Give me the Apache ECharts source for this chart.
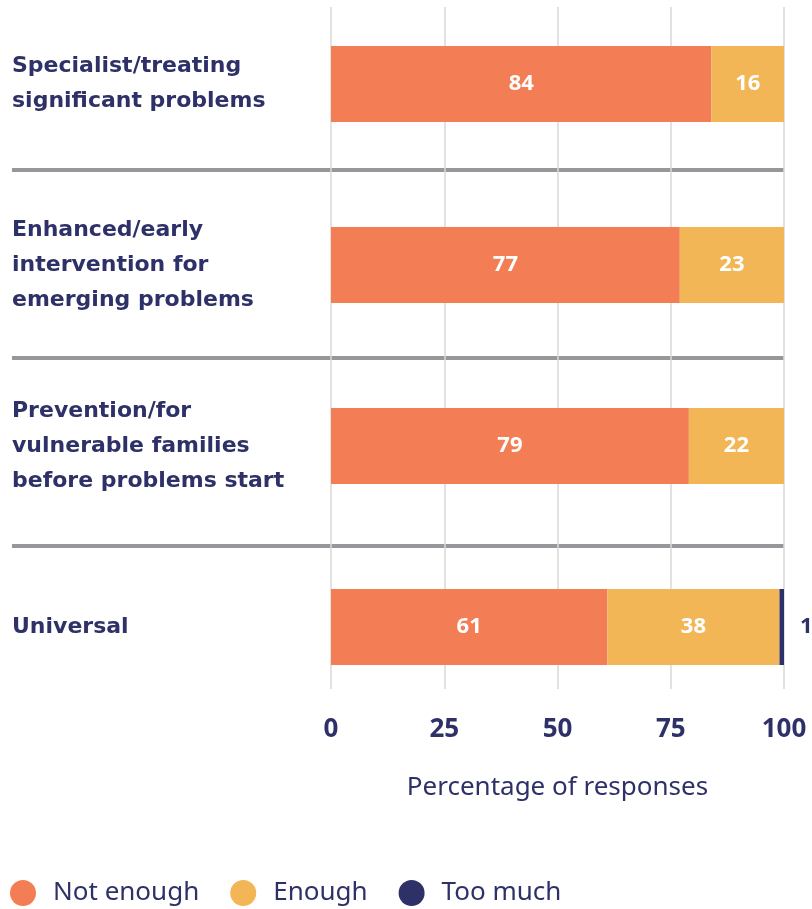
<!DOCTYPE html>
<html>
<head>
<meta charset="utf-8">
<script src="https://cdn.jsdelivr.net/npm/echarts@6/dist/echarts.min.js"></script>
<style>
  html, body { margin: 0; padding: 0; background: #ffffff; }
  #chart { width: 812px; height: 909px; }
</style>
</head>
<body>
<div id="chart"></div>
<script>
// Service levels, top to bottom
const categories = [
  'Specialist/treating\nsignificant problems',
  'Enhanced/early\nintervention for\nemerging problems',
  'Prevention/for\nvulnerable families\nbefore problems start',
  'Universal'
];
const seriesNames = ['Not enough', 'Enough', 'Too much'];
const notEnough = [84, 77, 79, 61];
const enough = [16, 23, 22, 38];
const tooMuch = [0, 0, 0, 1];
const xTicks = [0, 25, 50, 75, 100];
const separators = [0, 1, 2];

const NAVY = '#2e3168';
const ORANGE = '#f37e56';
const YELLOW = '#f3b656';
const FONT = 'Noto Sans';
const WIDE_FONT = 'DejaVu Sans';

const chart = echarts.init(document.getElementById('chart'));

const barLabel = {
  show: true,
  position: 'inside',
  color: '#ffffff',
  fontFamily: FONT,
  fontWeight: 'bold',
  fontSize: 22,
  formatter: p => (p.value ? String(p.value) : '')
};

chart.setOption({
  animation: false,
  backgroundColor: '#ffffff',
  textStyle: { fontFamily: FONT, color: NAVY },
  legend: {
    left: 10,
    top: 880,
    padding: 0,
    icon: 'circle',
    itemWidth: 26,
    itemHeight: 26,
    itemGap: 31,
    textStyle: { fontFamily: FONT, fontSize: 26, color: NAVY, padding: [0, 0, 0, 12] },
    data: seriesNames
  },
  grid: [
    // bars: category centres sit on the grid edges
    { left: 331, right: 28, top: 84, bottom: 282 },
    // vertical grid lines and tick labels
    { left: 331, right: 28, top: 7, bottom: 220 },
    // separators between service levels
    { left: 12, right: 28, top: 170, height: 376 }
  ],
  xAxis: [
    { gridIndex: 0, type: 'value', min: 0, max: 100, interval: 25, show: false },
    {
      gridIndex: 1, type: 'value', min: 0, max: 100, interval: 25,
      axisLine: { show: false }, axisTick: { show: false },
      splitLine: { show: true, lineStyle: { color: '#d9d9d9', width: 1.5 } },
      axisLabel: {
        margin: 28, color: NAVY, fontFamily: FONT, fontWeight: 'bold', fontSize: 26,
        customValues: xTicks
      },
      name: 'Percentage of responses',
      nameLocation: 'middle',
      nameGap: 86,
      nameTextStyle: { color: NAVY, fontFamily: FONT, fontSize: 26 }
    },
    { gridIndex: 2, type: 'value', min: 0, max: 1, show: false }
  ],
  yAxis: [
    {
      gridIndex: 0, type: 'category', data: categories, inverse: true, boundaryGap: false,
      axisLine: { show: false }, axisTick: { show: false }, splitLine: { show: false },
      axisLabel: {
        align: 'left', margin: 319, color: NAVY, fontFamily: WIDE_FONT,
        fontWeight: 'bold', fontSize: 22, lineHeight: 35,
        backgroundColor: 'rgba(255,255,255,0)', padding: [7, 0, 0, 0]
      }
    },
    { gridIndex: 1, type: 'value', show: false },
    {
      gridIndex: 2, type: 'value', min: 0, max: 2, interval: 1,
      axisLine: { show: false }, axisTick: { show: false }, axisLabel: { show: false },
      splitLine: { show: true, lineStyle: { color: '#97979b', width: 4 } },
      customValues: separators
    }
  ],
  series: [
    {
      name: seriesNames[0], type: 'bar', stack: 'total', data: notEnough,
      xAxisIndex: 0, yAxisIndex: 0, barWidth: 76,
      itemStyle: { color: ORANGE }, label: barLabel, z: 3
    },
    {
      name: seriesNames[1], type: 'bar', stack: 'total', data: enough,
      xAxisIndex: 0, yAxisIndex: 0, barWidth: 76,
      itemStyle: { color: YELLOW }, label: barLabel, z: 3
    },
    {
      name: seriesNames[2], type: 'bar', stack: 'total', data: tooMuch,
      xAxisIndex: 0, yAxisIndex: 0, barWidth: 76,
      itemStyle: { color: NAVY },
      label: Object.assign({}, barLabel, { position: 'right', distance: 16, color: NAVY }),
      z: 3
    }
  ]
});
</script>
</body>
</html>
